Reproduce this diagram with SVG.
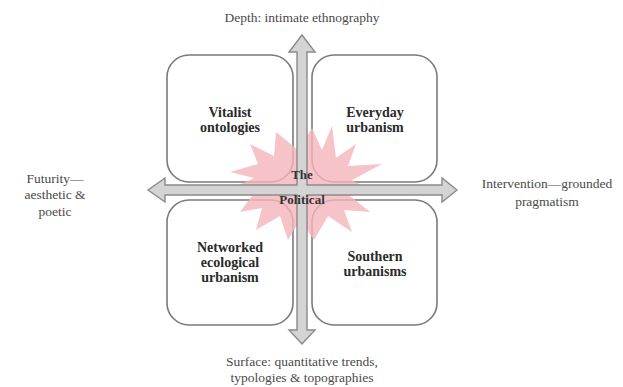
<svg xmlns="http://www.w3.org/2000/svg" width="623" height="387" viewBox="0 0 623 387">
<style>
.box{fill:#fff;stroke:#7a7a7a;stroke-width:1.6}
.ax{fill:#d4d4d4;stroke:#8a8a8a;stroke-width:1.4;stroke-linejoin:miter}
.lbl{font-family:"Liberation Serif","Times New Roman",serif;font-size:13.5px;fill:#4a4a4a;text-anchor:middle}
.bl{font-family:"Liberation Serif","Times New Roman",serif;font-size:14px;font-weight:bold;fill:#2a2a2a;text-anchor:middle}
.pol{font-family:"Liberation Serif","Times New Roman",serif;font-size:13px;font-weight:bold;fill:#333;text-anchor:middle}
</style>
<rect width="623" height="387" fill="#fff"/>
<g id="box-vitalist"><rect class="box" x="167" y="55" width="126" height="127" rx="22"/>
<text class="bl" x="230" y="117">Vitalist</text><text class="bl" x="230" y="132">ontologies</text></g>
<g id="box-everyday"><rect class="box" x="312" y="55" width="125" height="127" rx="22"/>
<text class="bl" x="375" y="117">Everyday</text><text class="bl" x="375" y="132">urbanism</text></g>
<g id="box-networked"><rect class="box" x="167" y="200" width="126" height="125" rx="22"/>
<text class="bl" x="230" y="252">Networked</text><text class="bl" x="230" y="267">ecological</text><text class="bl" x="230" y="282">urbanism</text></g>
<g id="box-southern"><rect class="box" x="312" y="200" width="125" height="125" rx="22"/>
<text class="bl" x="375" y="261">Southern</text><text class="bl" x="375" y="276">urbanisms</text></g>
<g id="political">
<polygon fill="#f4b4bb" fill-opacity="0.8" points="298,150 312,128 322,150 332,126 336,158 356,144 348,166 382,164 352,180 366,188 350,196 370,212 344,210 352,232 328,216 314,240 300,220 288,240 280,216 256,230 262,208 240,212 252,196 232,188 254,178 230,172 258,164 250,144 274,156 276,132"/>
</g>
<g id="connectors">
<path class="ax" d="M297,52 L289,52 L302,35 L315,52 L307,52 L307,185 L442,185 L442,178 L457,190 L442,202 L442,195 L307,195 L307,330 L315,330 L302,344 L289,330 L297,330 L297,195 L165,195 L165,202 L148,190 L165,178 L165,185 L297,185 Z"/>
</g>
<g id="political-label"><text class="pol" x="302" y="179">The</text><text class="pol" x="302" y="204">Political</text></g>
<g id="label-top"><text class="lbl" x="302" y="22">Depth: intimate ethnography</text></g>
<g id="label-bottom"><text class="lbl" x="302" y="366">Surface: quantitative trends,</text><text class="lbl" x="302" y="382">typologies &amp; topographies</text></g>
<g id="label-left"><text class="lbl" x="55" y="183">Futurity—</text><text class="lbl" x="55" y="199">aesthetic &amp;</text><text class="lbl" x="55" y="216">poetic</text></g>
<g id="label-right"><text class="lbl" x="547" y="188">Intervention—grounded</text><text class="lbl" x="547" y="206">pragmatism</text></g>
</svg>
